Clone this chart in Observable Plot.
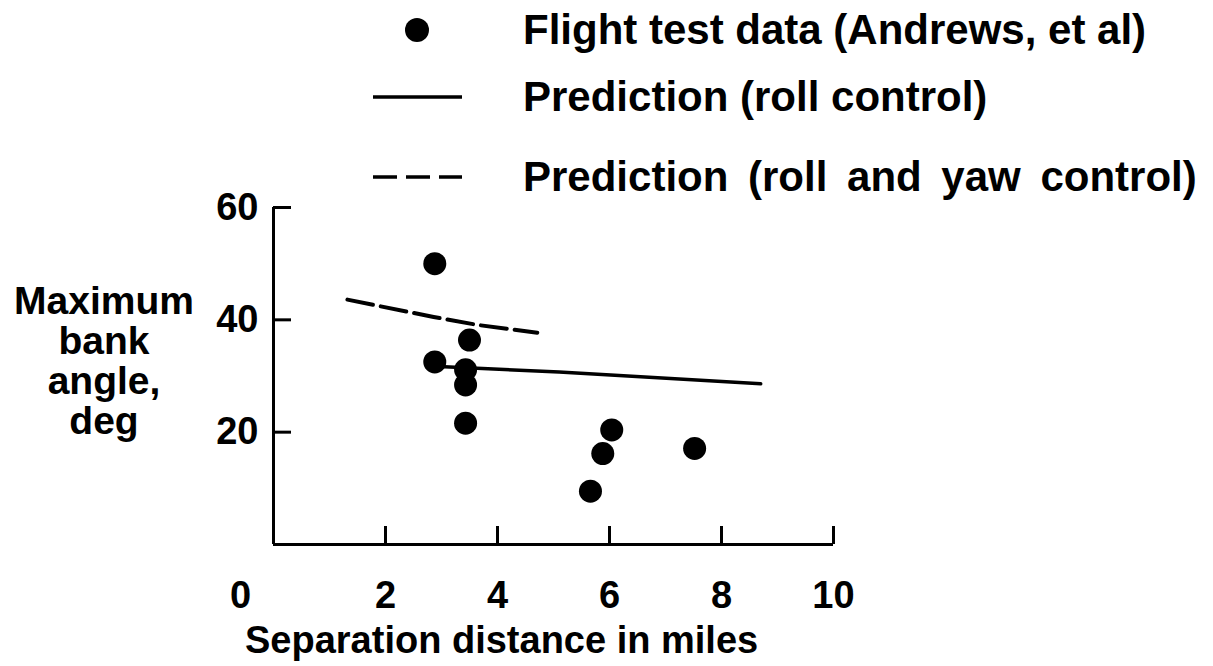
<!DOCTYPE html>
<html><head><meta charset="utf-8">
<script src="https://cdn.jsdelivr.net/npm/d3@7"></script>
<script src="https://cdn.jsdelivr.net/npm/@observablehq/plot@0.6"></script>
<style>
body{margin:0;background:#fff;}
#wrap{position:relative;width:1213px;height:666px;font-family:"Liberation Sans",Arial,Helvetica,sans-serif;font-weight:bold;color:#000;overflow:hidden;}
.t{position:absolute;white-space:nowrap;line-height:1;}
</style></head><body><div id="wrap"></div>
<script>
// ---- data ----
const xTicks = [2, 4, 6, 8, 10];
const yTicks = [20, 40, 60];
const flightX = [2.88, 2.88, 3.50, 3.43, 3.43, 3.43, 5.66, 5.88, 6.04, 7.52];
const flightY = [50.0, 32.5, 36.4, 31.1, 28.4, 21.6, 9.5, 16.2, 20.4, 17.1];
const rollX = [2.95, 5.1, 8.7];
const rollY = [31.7, 30.7, 28.6];
const yawX = [1.32, 2.86, 3.64, 4.71];
const yawY = [43.6, 40.5, 39.1, 37.7];
const legendLabels = ["Flight test data (Andrews, et al)", "Prediction (roll control)", "Prediction (roll and yaw control)"];
const xTitle = "Separation distance in miles";
const yTitle = ["Maximum", "bank", "angle,", "deg"];

const flight = flightX.map((x, i) => ({x, y: flightY[i]}));
const roll = rollX.map((x, i) => ({x, y: rollY[i]}));
const yaw = yawX.map((x, i) => ({x, y: yawY[i]}));

const chart = Plot.plot({
  width: 1213, height: 666,
  marginLeft: 273, marginRight: 380, marginTop: 207, marginBottom: 122,
  style: {fontFamily: '"Liberation Sans", Arial, Helvetica, sans-serif', fontWeight: "bold", fontSize: "37px", background: "white", color: "black", overflow: "visible"},
  x: {domain: [0, 10]},
  y: {domain: [0, 60]},
  marks: [
    Plot.ruleY([0], {strokeWidth: 3}),
    Plot.ruleX([0], {strokeWidth: 3}),
    Plot.axisX({ticks: xTicks, tickSize: 18, dy: -18, strokeWidth: 3, tickFormat: () => "", label: null}),
    Plot.axisX({ticks: xTicks, tickSize: 0, tickPadding: 37, label: null, fontSize: 38}),
    Plot.axisX({ticks: [0], tickSize: 0, tickPadding: 37, dx: -33, label: null, fontSize: 38}),
    Plot.axisY({ticks: yTicks, tickSize: 18, dx: 18, strokeWidth: 3, tickFormat: () => "", label: null}),
    Plot.axisY({ticks: yTicks, tickSize: 0, tickPadding: 15, label: null, fontSize: 38}),
    Plot.line(yaw, {x: "x", y: "y", stroke: "black", strokeWidth: 4, strokeDasharray: "26,8"}),
    Plot.line(roll, {x: "x", y: "y", stroke: "black", strokeWidth: 3.5}),
    Plot.dot(flight, {x: "x", y: "y", r: 11.5, fill: "black"})
  ]
});
const wrap = document.getElementById("wrap");
wrap.appendChild(chart);
chart.style.position = "absolute"; chart.style.left = "0"; chart.style.top = "0";

function addText(txt, left, top, size, extra) {
  const d = document.createElement("div");
  d.className = "t"; d.textContent = txt;
  d.style.left = left + "px"; d.style.top = top + "px"; d.style.fontSize = size + "px";
  if (extra) Object.assign(d.style, extra);
  wrap.appendChild(d); return d;
}
// y title (one line per div, centred on a common axis)
yTitle.forEach((line, i) => {
  addText(line, 4, 281 + i * 40, 39, {width: "200px", textAlign: "center"});
});
// x title
addText(xTitle, 245, 621, 38);

// legend
const legendRows = [30, 97, 177];
const ns = "http://www.w3.org/2000/svg";
legendRows.forEach((cy, i) => {
  const s = document.createElementNS(ns, "svg");
  s.setAttribute("width", 100); s.setAttribute("height", 30);
  s.style.position = "absolute"; s.style.left = "370px"; s.style.top = (cy - 15) + "px";
  if (i === 0) {
    const c = document.createElementNS(ns, "circle");
    c.setAttribute("cx", 47); c.setAttribute("cy", 15); c.setAttribute("r", 12);
    s.appendChild(c);
  } else {
    const l = document.createElementNS(ns, "line");
    l.setAttribute("x1", 3); l.setAttribute("x2", 92); l.setAttribute("y1", 15); l.setAttribute("y2", 15);
    l.setAttribute("stroke", "black"); l.setAttribute("stroke-width", 3.5);
    if (i === 2) l.setAttribute("stroke-dasharray", "24,9");
    s.appendChild(l);
  }
  wrap.appendChild(s);
  addText(legendLabels[i], 523, cy - 21, 42, i === 2 ? {wordSpacing: "8px"} : null);
});
</script></body></html>
